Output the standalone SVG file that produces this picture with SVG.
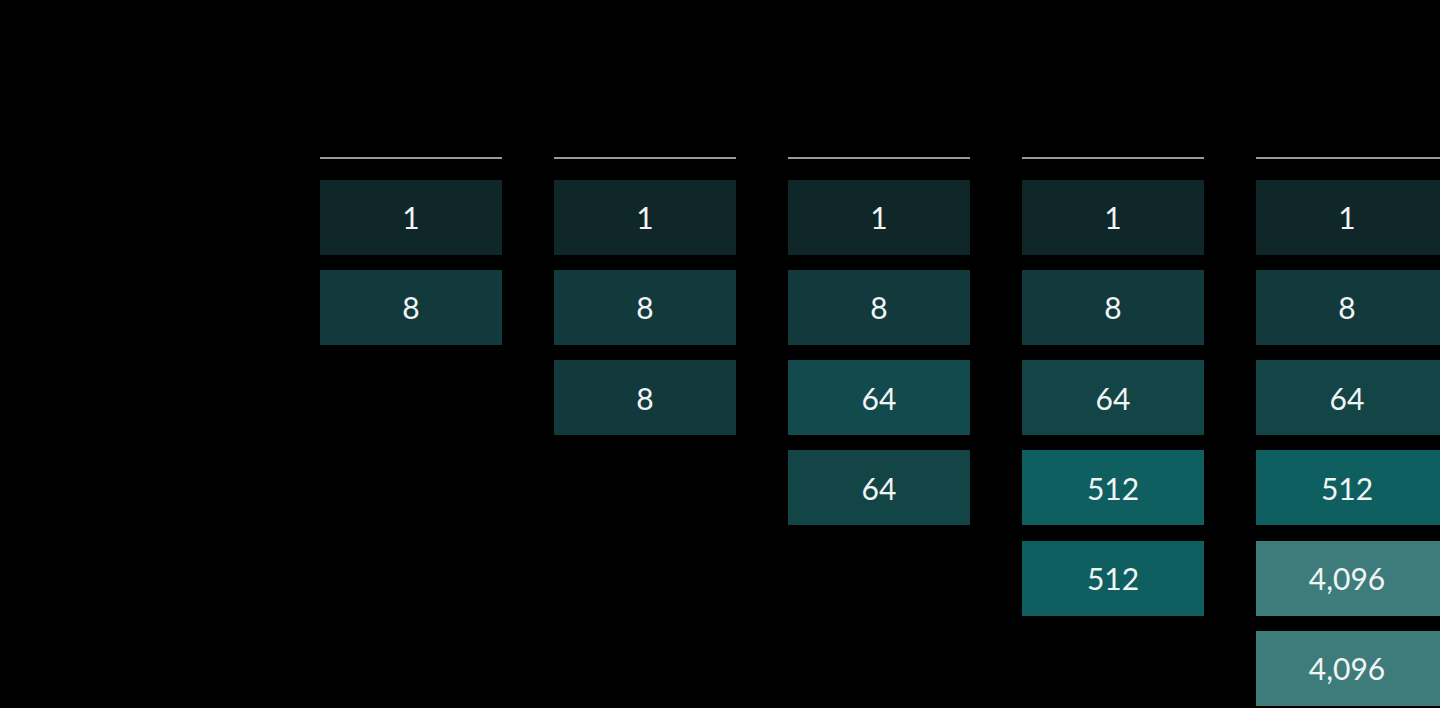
<svg xmlns="http://www.w3.org/2000/svg" width="1440" height="708" viewBox="0 0 1440 708">
<style>
text{font-family:Lato,"Open Sans",sans-serif;font-size:30px;fill:#f2f5f5;text-anchor:middle;dominant-baseline:central}
.h{stroke:#9a9a9a;stroke-width:2}
.a{fill:#0f2729}.b{fill:#12393c}.c{fill:#124a4d}.d{fill:#134446}.e{fill:#0f5e60}.f{fill:#3e7c7c}
</style>
<rect width="1440" height="708" fill="#000"/>
<g id="headers">
<line class="h" x1="320" y1="158" x2="502" y2="158"/>
<line class="h" x1="554" y1="158" x2="736" y2="158"/>
<line class="h" x1="788" y1="158" x2="970" y2="158"/>
<line class="h" x1="1022" y1="158" x2="1204" y2="158"/>
<line class="h" x1="1256" y1="158" x2="1440" y2="158"/>
</g>
<g id="connectors"/>
<g id="col1">
<rect class="a" x="320" y="180" width="182" height="75"/><text x="411" y="217">1</text>
<rect class="b" x="320" y="270" width="182" height="75"/><text x="411" y="307">8</text>
</g>
<g id="col2">
<rect class="a" x="554" y="180" width="182" height="75"/><text x="645" y="217">1</text>
<rect class="b" x="554" y="270" width="182" height="75"/><text x="645" y="307">8</text>
<rect class="b" x="554" y="360" width="182" height="75"/><text x="645" y="398">8</text>
</g>
<g id="col3">
<rect class="a" x="788" y="180" width="182" height="75"/><text x="879" y="217">1</text>
<rect class="b" x="788" y="270" width="182" height="75"/><text x="879" y="307">8</text>
<rect class="c" x="788" y="360" width="182" height="75"/><text x="879" y="398">64</text>
<rect class="d" x="788" y="450" width="182" height="75"/><text x="879" y="488">64</text>
</g>
<g id="col4">
<rect class="a" x="1022" y="180" width="182" height="75"/><text x="1113" y="217">1</text>
<rect class="b" x="1022" y="270" width="182" height="75"/><text x="1113" y="307">8</text>
<rect class="d" x="1022" y="360" width="182" height="75"/><text x="1113" y="398">64</text>
<rect class="e" x="1022" y="450" width="182" height="75"/><text x="1113" y="488">512</text>
<rect class="e" x="1022" y="541" width="182" height="75"/><text x="1113" y="578">512</text>
</g>
<g id="col5">
<rect class="a" x="1256" y="180" width="184" height="75"/><text x="1347" y="217">1</text>
<rect class="b" x="1256" y="270" width="184" height="75"/><text x="1347" y="307">8</text>
<rect class="d" x="1256" y="360" width="184" height="75"/><text x="1347" y="398">64</text>
<rect class="e" x="1256" y="450" width="184" height="75"/><text x="1347" y="488">512</text>
<rect class="f" x="1256" y="541" width="184" height="75"/><text x="1347" y="578">4,096</text>
<rect class="f" x="1256" y="631" width="184" height="75"/><text x="1347" y="668">4,096</text>
</g>
</svg>
